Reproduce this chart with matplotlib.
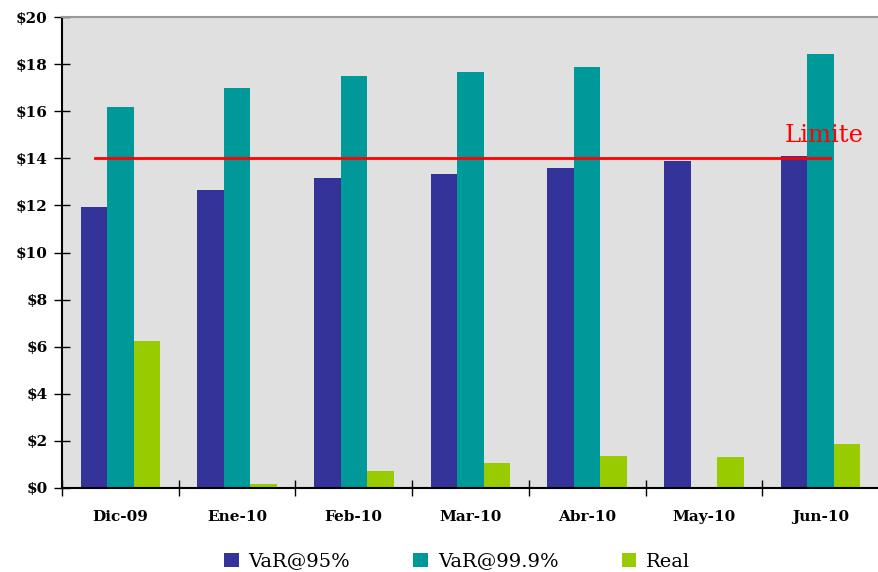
import numpy as np
import matplotlib.pyplot as plt
from matplotlib.ticker import MultipleLocator, FuncFormatter

# datos
meses = ["Dic-09", "Ene-10", "Feb-10", "Mar-10", "Abr-10", "May-10", "Jun-10"]
var95 = [11.93, 12.65, 13.16, 13.33, 13.59, 13.88, 14.10]
var999 = [16.18, 16.99, 17.50, 17.66, 17.88, np.nan, 18.43]
real = [6.24, 0.17, 0.72, 1.06, 1.36, 1.32, 1.87]
limite = 14
series = ["VaR@95%", "VaR@99.9%", "Real"]
colores = ["#333399", "#009999", "#99cc00"]

plt.rcParams["font.family"] = ["DejaVu Serif"]

fig = plt.figure(figsize=(8.79, 5.72), dpi=100)
ax = fig.add_axes([0.0705, 0.147, 0.9295, 0.823])
ax.set_facecolor("#e0e0e0")

x = np.arange(len(meses)) + 0.5
w = 0.227
for k, (vals, nom, col) in enumerate(zip([var95, var999, real], series, colores)):
    ax.bar(x + (k - 1) * w, vals, width=w, color=col, label=nom, zorder=2)

ax.plot([x[0] - 0.22, x[-1] + 0.08], [limite, limite], color="#ff0000", lw=2, zorder=3)
ax.text(x[-1] + 0.03, limite + 0.5, "Limite", color="#ff0000", fontsize=17.5,
        ha="center", va="bottom")

ax.set_xlim(0, len(meses))
ax.set_ylim(0, 20)
ax.yaxis.set_major_locator(MultipleLocator(2))
ax.yaxis.set_major_formatter(FuncFormatter(lambda v, p: r"\$%d" % v))
ax.set_xticks(np.arange(len(meses) + 1))
ax.set_xticklabels([])
ax.set_xticks(x, minor=True)
ax.set_xticklabels(meses, minor=True, fontsize=11, fontweight="bold")
for t in ax.get_yticklabels():
    t.set_fontweight("bold")
ax.tick_params(axis="x", which="minor", length=0, pad=16)
ax.tick_params(axis="x", which="major", direction="inout", length=12, width=1)
ax.tick_params(axis="y", direction="inout", length=11, width=1, labelsize=11, pad=5)

for s in ["left", "bottom"]:
    ax.spines[s].set_color("black")
    ax.spines[s].set_linewidth(1.5)
ax.spines["top"].set_color("#999999")
ax.spines["top"].set_linewidth(1.5)
ax.spines["right"].set_visible(False)

fig.legend(loc="lower center", bbox_to_anchor=(0.52, -0.028), ncol=3, frameon=False,
           fontsize=14, handlelength=0.75, handleheight=0.75, columnspacing=3.25,
           handletextpad=0.5)

fig.savefig("out.png", dpi=100)
